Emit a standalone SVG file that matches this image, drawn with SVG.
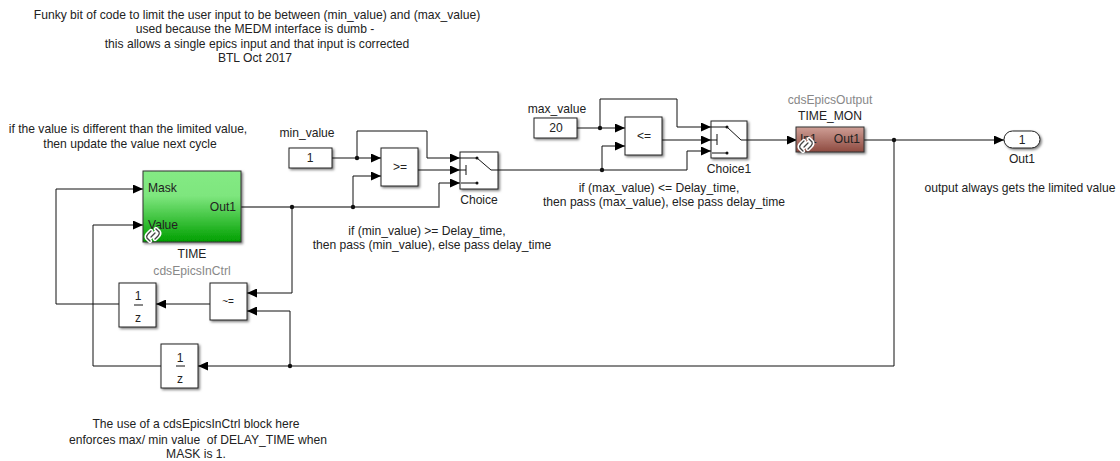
<svg xmlns="http://www.w3.org/2000/svg" width="1120" height="461" viewBox="0 0 1120 461">
<style>
text{font-family:"Liberation Sans",Arial,sans-serif;font-size:12.1px;fill:#222;text-anchor:middle}
.g{fill:#888}
.b{fill:#fff;stroke:#222;stroke-width:1;filter:url(#sh)}
.w{fill:none;stroke:#111;stroke-width:1;marker-end:url(#a)}
.n{fill:none;stroke:#111;stroke-width:1}
.t{fill:none;stroke:#555;stroke-width:1.4}
.d{fill:#111}
.l{fill:none;stroke:#fff;stroke-width:4.4;stroke-linecap:round}
.k{fill:none;stroke:#444;stroke-width:1.3;stroke-linecap:round}
</style>
<defs>
<marker id="a" viewBox="0 0 10 9" refX="10" refY="4.5" markerWidth="10" markerHeight="9" markerUnits="userSpaceOnUse" orient="auto"><path d="M0 0L10 4.5L0 9Z" fill="#000"/></marker>
<filter id="sh" x="-20%" y="-20%" width="150%" height="150%"><feDropShadow dx="1.5" dy="1.5" stdDeviation="1" flood-color="#000" flood-opacity="0.5"/></filter>
<linearGradient id="gr" x1="0" y1="0" x2="0" y2="1"><stop offset="0" stop-color="#84ea84"/><stop offset="0.35" stop-color="#7ee67e"/><stop offset="1" stop-color="#00a000"/></linearGradient>
<linearGradient id="rd" x1="0" y1="0" x2="0" y2="1"><stop offset="0" stop-color="#cf9f96"/><stop offset="1" stop-color="#8e4a40"/></linearGradient>
<g id="link"><path class="l" d="M-3 6L-6 3Q-7 1-5 -1L-2 -4M3 -6L6 -3Q7 -1 5 1L2 4M-2 2L2 -2"/><path class="k" d="M-3 6L-6 3Q-7 1-5 -1L-2 -4M3 -6L6 -3Q7 -1 5 1L2 4M-2 2L2 -2"/></g>
</defs>

<g id="connectors">
<path class="w" d="M119 304H56V189H143"/>
<path class="w" d="M161 366H93V225H143"/>
<path class="t" d="M241 207H439V183"/><path class="w" d="M439 183H460"/>
<path class="n" d="M292 207V293"/><path class="w" d="M292 293H247"/>
<path class="w" d="M210 304H156"/>
<path class="w" d="M290 366V311H247"/>
<path class="w" d="M894 366H198"/>
<path class="n" d="M894 140V366"/>
<path class="w" d="M332 158H381"/>
<path class="w" d="M357 158V131H427V158H460"/>
<path class="w" d="M353 207V176H381"/>
<path class="w" d="M418 170H460"/>
<path class="n" d="M498 170H602"/>
<path class="w" d="M602 170V146H625"/>
<path class="w" d="M602 170H687V151H711"/>
<path class="w" d="M577 128H625"/>
<path class="w" d="M600 128V99H677V127H711"/>
<path class="w" d="M662 140H711"/>
<path class="w" d="M747 140H797"/>
<path class="w" d="M864 140H1004"/>
<circle class="d" cx="292" cy="207" r="2.2"/>
<circle class="d" cx="353" cy="207" r="2.2"/>
<circle class="d" cx="357" cy="158" r="2.2"/>
<circle class="d" cx="290" cy="366" r="2.2"/>
<circle class="d" cx="602" cy="170" r="2.2"/>
<circle class="d" cx="600" cy="128" r="2.2"/>
<circle class="d" cx="894" cy="140" r="2.2"/>
</g>

<g id="time">
<rect x="143" y="171" width="98" height="71" fill="url(#gr)" stroke="#333" filter="url(#sh)"/>
<text x="148" y="192" style="text-anchor:start">Mask</text>
<text x="148" y="229" style="text-anchor:start">Value</text>
<text x="236" y="211" style="text-anchor:end">Out1</text>
<use href="#link" x="153" y="235"/>
<text x="192" y="258">TIME</text>
<text x="192" y="275" class="g">cdsEpicsInCtrl</text>
</g>
<g id="delay1"><rect class="b" x="119" y="283" width="37" height="44"/>
<text x="138" y="300">1</text><path class="n" d="M134 305H143"/><text x="138" y="322">z</text></g>
<g id="neq"><rect class="b" x="210" y="283" width="37" height="37"/><text x="228" y="305" style="font-size:10px">~=</text></g>
<g id="delay2"><rect class="b" x="161" y="344" width="37" height="44"/>
<text x="180" y="362">1</text><path class="n" d="M176 366H185"/><text x="180" y="383">z</text></g>
<g id="min-value"><rect class="b" x="289" y="148" width="43" height="20"/><text x="310" y="162">1</text><text x="307" y="137">min_value</text></g>
<g id="ge"><rect class="b" x="381" y="148" width="37" height="38"/><text x="400" y="171">&gt;=</text></g>
<g id="choice"><rect class="b" x="460" y="152" width="38" height="37"/>
<path class="n" d="M460 158H477L491 170H498M461 183H477M466 165V175M460 170H466"/><circle class="d" cx="477" cy="158" r="1.5"/><circle class="d" cx="477" cy="183" r="1.5"/>
<text x="479" y="204">Choice</text></g>
<g id="max-value"><rect class="b" x="534" y="118" width="43" height="20"/><text x="556" y="132">20</text><text x="557" y="113">max_value</text></g>
<g id="le"><rect class="b" x="625" y="117" width="37" height="38"/><text x="644" y="140">&lt;=</text></g>
<g id="choice1"><rect class="b" x="711" y="121" width="36" height="37"/>
<path class="n" d="M711 127H727L741 140H747M712 153H727M717 134V145M711 140H717"/><circle class="d" cx="727" cy="127" r="1.5"/><circle class="d" cx="727" cy="153" r="1.5"/>
<text x="729" y="173">Choice1</text></g>
<g id="time-mon">
<rect x="796" y="127" width="68" height="25" fill="url(#rd)" stroke="#333" filter="url(#sh)"/>
<text x="800" y="143" style="text-anchor:start">In1</text><text x="860" y="143" style="text-anchor:end">Out1</text>
<use href="#link" x="806" y="145"/>
<text x="830" y="104" class="g">cdsEpicsOutput</text><text x="830" y="120">TIME_MON</text></g>
<g id="out1"><rect class="b" x="1004" y="131" width="36" height="17" rx="8.5"/><text x="1022" y="144">1</text><text x="1022" y="163">Out1</text></g>

<g id="notes">
<text x="257" y="19">Funky bit of code to limit the user input to be between (min_value) and (max_value)</text>
<text x="255" y="33">used because the MEDM interface is dumb -</text>
<text x="257" y="48">this allows a single epics input and that input is corrected</text>
<text x="255" y="62">BTL Oct 2017</text>
<text x="128" y="133">if the value is different than the limited value,</text>
<text x="130" y="148">then update the value next cycle</text>
<text x="427" y="235">if (min_value) &gt;= Delay_time,</text>
<text x="432" y="249">then pass (min_value), else pass delay_time</text>
<text x="659" y="192">if (max_value) &lt;= Delay_time,</text>
<text x="664" y="206">then pass (max_value), else pass delay_time</text>
<text x="1020" y="192">output always gets the limited value</text>
<text x="196" y="428">The use of a cdsEpicsInCtrl block here</text>
<text x="198" y="444" xml:space="preserve">enforces max/ min value  of DELAY_TIME when</text>
<text x="196" y="458">MASK is 1.</text>
</g>
</svg>
